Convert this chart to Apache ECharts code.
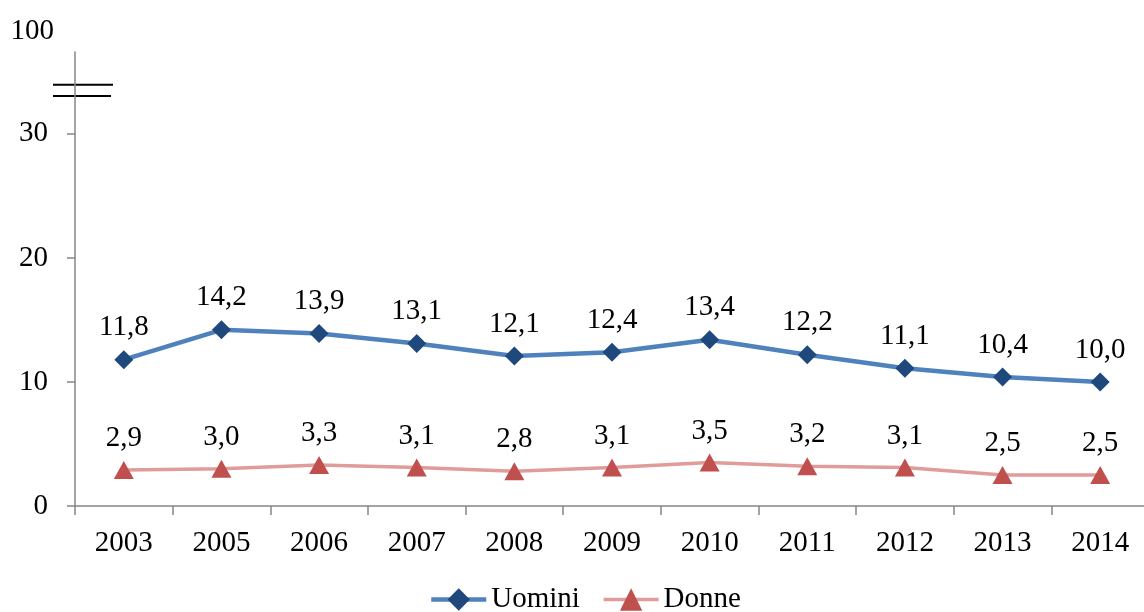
<!DOCTYPE html>
<html>
<head>
<meta charset="utf-8">
<script src="https://cdn.jsdelivr.net/npm/echarts@6/dist/echarts.min.js"></script>
<style>
html,body{margin:0;padding:0;background:#fff;}
#chart{width:1144px;height:612px;}
</style>
</head>
<body>
<div id="chart"></div>
<script>
var categories = ['2003','2005','2006','2007','2008','2009','2010','2011','2012','2013','2014'];
var uomini = [11.8,14.2,13.9,13.1,12.1,12.4,13.4,12.2,11.1,10.4,10.0];
var donne = [2.9,3.0,3.3,3.1,2.8,3.1,3.5,3.2,3.1,2.5,2.5];
var yTickValues = [0,10,20,30];
var yTopLabel = '100';
var yAxisTop = 36.6;
var breakValues = [33.95,33.05];

var FONT = '"Liberation Serif","Times New Roman",serif';
var FS = 29;
var fmt = function(v){ return v.toFixed(1).replace('.', ','); };

var chart = echarts.init(document.getElementById('chart'));
var option = {
  animation:false,
  backgroundColor:'#fff',
  grid:{left:75,width:1074,top:52,bottom:106,containLabel:false,outerBoundsMode:'none'},
  legend:{
    left:424, top:580,
    itemWidth:55, itemHeight:28, itemGap:22,
    textStyle:{fontFamily:FONT,fontSize:FS,color:'#000'},
    data:[
      {name:'Uomini', lineStyle:{width:4.5,color:'#4F81BD'}},
      {name:'Donne', lineStyle:{width:3.5,color:'#E09C9A'}}
    ]
  },
  xAxis:{
    type:'category', data:categories, boundaryGap:true,
    axisLine:{lineStyle:{color:'#868686',width:1.5}},
    axisTick:{show:true,length:9,lineStyle:{color:'#868686',width:1.5}},
    axisLabel:{fontFamily:FONT,fontSize:FS,color:'#000',margin:23}
  },
  yAxis:{
    type:'value', min:0, max:yAxisTop,
    splitLine:{show:false},
    axisLine:{show:true,lineStyle:{color:'#868686',width:1.5}},
    axisTick:{show:true,inside:false,length:8,customValues:yTickValues,lineStyle:{color:'#868686',width:1.5}},
    axisLabel:{
      fontFamily:FONT,fontSize:FS,color:'#000',margin:27,
      customValues:yTickValues.concat([yAxisTop]),
      formatter:function(v){ return v===yAxisTop ? '{top|'+yTopLabel+'}' : String(v); },
      rich:{top:{fontFamily:FONT,fontSize:FS,color:'#000',padding:[0,-6,42,0]}}
    }
  },
  series:[
    {
      name:'Uomini', type:'line', data:uomini,
      symbol:'diamond', symbolSize:19,
      lineStyle:{color:'#4F81BD',width:4.5},
      itemStyle:{color:'#1F497D',borderWidth:0},
      label:{show:true,position:'top',distance:8,fontFamily:FONT,fontSize:FS,color:'#000',
        formatter:function(p){return fmt(p.value);}}
    },
    {
      name:'Donne', type:'line', data:donne,
      symbol:'triangle', symbolSize:[20,18],
      lineStyle:{color:'#E09C9A',width:3.5},
      itemStyle:{color:'#C0504D',borderWidth:0},
      label:{show:true,position:'top',distance:8,fontFamily:FONT,fontSize:FS,color:'#000',
        formatter:function(p){return fmt(p.value);}}
    }
  ]
};
chart.setOption(option);

var y1 = chart.convertToPixel({yAxisIndex:0}, breakValues[0]);
var y2 = chart.convertToPixel({yAxisIndex:0}, breakValues[1]);
chart.setOption({
  graphic:[
    {type:'line',shape:{x1:53,y1:y1,x2:113,y2:y1},style:{stroke:'#000',lineWidth:2}},
    {type:'line',shape:{x1:53,y1:y2,x2:111,y2:y2},style:{stroke:'#000',lineWidth:2}}
  ]
});
</script>
</body>
</html>
